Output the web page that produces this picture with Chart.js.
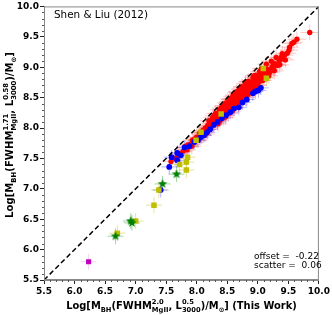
<!DOCTYPE html>
<html>
<head>
<meta charset="utf-8">
<script src="https://cdn.jsdelivr.net/npm/chart.js@4.4.0/dist/chart.umd.min.js"></script>
<style>
html, body { margin: 0; padding: 0; background: #fff; }
</style>
</head>
<body>
<canvas id="chart" width="332" height="315"></canvas>
<script>
// Log M_BH: x = this work, y = Shen & Liu (2012)
const redPts = [
	[7.58,7.45],[7.65,7.50],[7.72,7.58],[7.78,7.62],[7.82,7.70],[7.86,7.72],[7.90,7.73],[7.93,7.80],
	[7.97,7.82],[8.00,7.85],[8.02,7.80],[8.05,7.92],[8.08,7.90],[8.10,7.96],[8.12,7.93],[8.14,8.00],
	[8.16,7.97],[8.18,8.04],[8.20,8.01],[8.22,8.08],[8.24,8.03],[8.25,8.12],[8.27,8.07],[8.29,8.14],
	[8.30,8.10],[8.32,8.18],[8.33,8.12],[8.35,8.20],[8.36,8.15],[8.38,8.24],[8.39,8.18],[8.41,8.27],
	[8.42,8.20],[8.44,8.30],[8.45,8.23],[8.46,8.33],[8.48,8.26],[8.49,8.36],[8.50,8.29],[8.52,8.38],
	[8.53,8.31],[8.55,8.41],[8.56,8.33],[8.57,8.44],[8.59,8.36],[8.60,8.47],[8.62,8.39],[8.63,8.49],
	[8.64,8.42],[8.66,8.52],[8.67,8.44],[8.69,8.55],[8.70,8.47],[8.72,8.57],[8.73,8.50],[8.75,8.60],
	[8.76,8.52],[8.78,8.63],[8.79,8.55],[8.81,8.66],[8.82,8.58],[8.84,8.68],[8.85,8.61],[8.87,8.71],
	[8.88,8.63],[8.90,8.74],[8.91,8.66],[8.93,8.77],[8.95,8.69],[8.96,8.80],[8.98,8.72],[9.00,8.82],
	[9.02,8.76],[9.04,8.86],[9.06,8.79],[9.08,8.89],[9.10,8.83],[9.12,8.92],[9.15,8.88],[9.17,8.96],
	[9.20,8.92],[9.23,9.00],[9.26,8.97],[9.29,9.05],[9.32,9.03],[9.35,9.10],[9.38,9.16],[9.41,9.14],
	[9.44,9.20],[9.48,9.23],[9.51,9.28],[9.56,9.39],[9.59,9.41],[9.64,9.46],[9.85,9.57],
	[8.28,8.20],[8.40,8.33],[8.51,8.43],[8.61,8.54],[8.71,8.64],[8.80,8.73],[8.92,8.83],[9.03,8.93],
	[8.35,8.07],[8.47,8.18],[8.58,8.28],[8.68,8.38],[8.80,8.50],[8.90,8.60],[9.00,8.70],[8.15,7.90],
	[8.05,7.84],[7.95,7.76],[8.45,8.37],[8.55,8.47],[8.65,8.58],[8.75,8.67],[8.85,8.77],[8.97,8.87],
	[8.20,8.12],[8.26,8.17],[8.31,8.24],[8.37,8.30],[8.43,8.36],[8.48,8.41],[8.54,8.48],[8.59,8.52],
	[8.66,8.60],[8.74,8.68],[8.83,8.76],[8.94,8.86],[9.06,8.98],[9.14,9.05],[9.22,9.10],[9.30,9.16],
	[8.38,8.12],[8.44,8.17],[8.52,8.24],[8.62,8.33],[8.72,8.44],[8.84,8.55],[8.94,8.64],[9.08,8.78],
	[9.18,8.86],[9.27,8.94],[9.36,9.04],[9.45,9.12],[8.60,8.43],[8.70,8.53],[8.78,8.61],[8.86,8.68],
	[8.99,8.79],[9.13,8.97],[9.25,9.07],[9.40,9.22],[9.52,9.33],[7.70,7.55],[7.84,7.64],[7.92,7.70],
	[8.10,7.88],[8.18,7.98]
];
const bluePts = [
	[7.41,6.98],[7.55,7.36],[7.59,7.52],[7.68,7.47],[7.68,7.59],[7.74,7.55],[7.80,7.68],[7.88,7.70],
	[7.96,7.77],[8.02,7.80],[8.07,7.85],[8.12,7.88],[8.17,7.93],[8.22,7.98],[8.28,8.05],[8.34,8.10],
	[8.41,8.16],[8.48,8.21],[8.55,8.26],[8.61,8.32],[8.69,8.34],[8.75,8.42],[8.82,8.47],[8.92,8.57],
	[8.96,8.60],[9.01,8.62],[9.05,8.66]
];
const yellowPts = [
	[6.70,6.27],[7.00,6.47],[7.30,6.73],[7.38,6.98],[7.72,7.40],[7.83,7.44],[7.83,7.31],[7.85,7.52],
	[7.99,7.80],[8.07,7.93],[8.40,8.23],[9.09,8.98],[9.14,8.82]
];
const greenPts = [[6.67,6.22],[6.94,6.44],[6.92,6.47],[7.44,7.08],[7.67,7.24]];
const magentaPts = [[6.23,5.80]];
const oneToOne = [[5.5,5.5],[10.0,10.0]];

const xTicks = [5.5, 6.0, 6.5, 7.0, 7.5, 8.0, 8.5, 9.0, 9.5, 10.0];
const yTicks = [5.5, 6.0, 6.5, 7.0, 7.5, 8.0, 8.5, 9.0, 9.5, 10.0];
const offsetText = 'offset =  -0.22';
const scatterText = 'scatter =  0.06';

const toXY = pts => pts.map(p => ({ x: p[0], y: p[1] }));

function starImage(r, color) {
	const c = document.createElement('canvas');
	c.width = c.height = 2 * r + 2;
	const g = c.getContext('2d');
	g.beginPath();
	for (let i = 0; i < 10; i++) {
		const a = -Math.PI / 2 + i * Math.PI / 5;
		const rr = i % 2 ? r * 0.42 : r;
		g.lineTo(r + 1 + rr * Math.cos(a), r + 1 + rr * Math.sin(a));
	}
	g.closePath();
	g.fillStyle = color;
	g.fill();
	return c;
}

// error bars behind markers
const errorBars = {
	id: 'errorBars',
	beforeDatasetsDraw(chart) {
		const { ctx, chartArea, scales: { x, y } } = chart;
		ctx.save();
		ctx.beginPath();
		ctx.rect(chartArea.left, chartArea.top, chartArea.right - chartArea.left, chartArea.bottom - chartArea.top);
		ctx.clip();
		ctx.lineWidth = 1;
		chart.data.datasets.forEach(ds => {
			if (!ds.err) return;
			ctx.strokeStyle = ds.errColor;
			ds.data.forEach(p => {
				const px = x.getPixelForValue(p.x), py = y.getPixelForValue(p.y);
				ctx.beginPath();
				ctx.moveTo(x.getPixelForValue(p.x - ds.err[0]), py);
				ctx.lineTo(x.getPixelForValue(p.x + ds.err[0]), py);
				ctx.moveTo(px, y.getPixelForValue(p.y - ds.err[1]));
				ctx.lineTo(px, y.getPixelForValue(p.y + ds.err[1]));
				ctx.stroke();
			});
		});
		ctx.restore();
	}
};

function drawRich(ctx, parts, target, cx, cy) {
	const fontOf = s => 'bold ' + s + 'px "DejaVu Sans"';
	const measure = s => {
		let w = 0;
		parts.forEach(p => {
			if (p[1] === 'n') { ctx.font = fontOf(s); w += ctx.measureText(p[0]).width; }
			else if (p[1] === 'ss') {
				ctx.font = fontOf(s * 0.68);
				w += Math.max(ctx.measureText(p[0][0]).width, ctx.measureText(p[0][1]).width);
			} else { ctx.font = fontOf(s * 0.68); w += ctx.measureText(p[0]).width; }
		});
		return w;
	};
	const s = 10 * target / measure(10);
	const w = measure(s);
	let x = cx - w / 2;
	const base = cy + s * 0.36;
	ctx.textBaseline = 'alphabetic';
	ctx.textAlign = 'left';
	ctx.fillStyle = '#000';
	parts.forEach(p => {
		if (p[1] === 'n') {
			ctx.font = fontOf(s);
			ctx.fillText(p[0], x, base);
			x += ctx.measureText(p[0]).width;
		} else if (p[1] === 'ss') {
			ctx.font = fontOf(s * 0.68);
			ctx.fillText(p[0][0], x, base - s * 0.42);
			ctx.fillText(p[0][1], x, base + s * 0.3);
			x += Math.max(ctx.measureText(p[0][0]).width, ctx.measureText(p[0][1]).width);
		} else {
			ctx.font = fontOf(s * 0.68);
			ctx.fillText(p[0], x, base + s * 0.3);
			x += ctx.measureText(p[0]).width;
		}
	});
}

const xTitle = [['Log[M','n'],['BH','sub'],['(FWHM','n'],[['2.0','MgII'],'ss'],[', L','n'],[['0.5','3000'],'ss'],[')/M','n'],['\u2299','sub'],['] (This Work)','n']];
const yTitle = [['Log[M','n'],['BH','sub'],['(FWHM','n'],[['1.71','MgII'],'ss'],[', L','n'],[['0.58','3000'],'ss'],[')/M','n'],['\u2299','sub'],[']','n']];

const decorations = {
	id: 'decorations',
	afterDraw(chart) {
		const { ctx, chartArea: a, scales: { x, y } } = chart;
		ctx.save();
		// frame
		ctx.strokeStyle = '#888';
		ctx.lineWidth = 1;
		ctx.strokeRect(a.left + 0.5, a.top + 0.5, a.right - a.left - 1, a.bottom - a.top - 1);
		// minor ticks
		ctx.strokeStyle = '#555';
		ctx.beginPath();
		for (let i = 55; i <= 100; i++) {
			if (i % 5 === 0) continue;
			const px = Math.round(x.getPixelForValue(i / 10)) + 0.5;
			ctx.moveTo(px, a.bottom); ctx.lineTo(px, a.bottom + 2);
			const py = Math.round(y.getPixelForValue(i / 10)) + 0.5;
			ctx.moveTo(a.left, py); ctx.lineTo(a.left - 2, py);
		}
		ctx.stroke();
		// axis titles
		drawRich(ctx, xTitle, 231, (a.left + a.right) / 2, 305);
		ctx.save();
		ctx.translate(9, 135);
		ctx.rotate(-Math.PI / 2);
		drawRich(ctx, yTitle, 166, 0, 0);
		ctx.restore();
		// annotations
		ctx.fillStyle = '#000';
		ctx.textBaseline = 'middle';
		ctx.textAlign = 'left';
		ctx.font = '10.4px "DejaVu Sans"';
		ctx.fillText('Shen & Liu (2012)', 54, 15);
		ctx.font = '9px "DejaVu Sans"';
		ctx.fillText(offsetText, 254, 257);
		ctx.fillText(scatterText, 254, 266);
		ctx.restore();
	}
};

function errSet(label, pts, color, errColor, style, radius, err, order) {
	return {
		label: label,
		data: toXY(pts),
		backgroundColor: color,
		borderColor: color,
		borderWidth: 0,
		pointStyle: style,
		pointRadius: radius,
		err: err,
		errColor: errColor,
		order: order
	};
}

const datasets = [
	{
		label: '1:1',
		data: toXY(oneToOne),
		showLine: true,
		borderColor: '#000',
		borderWidth: 1.5,
		borderDash: [5, 3],
		pointRadius: 0,
		order: 0
	},
	errSet('magenta', magentaPts, '#bf00bf', 'rgba(191,0,191,0.18)', 'rect', 3.6, [0.13, 0.13], 1),
	errSet('green', greenPts, '#008000', 'rgba(0,128,0,0.35)', starImage(5, '#008000'), 5, [0.13, 0.13], 2),
	errSet('yellow', yellowPts, '#bfbf00', 'rgba(191,191,0,0.4)', 'rect', 3.9, [0.13, 0.13], 3),
	errSet('blue', bluePts, '#0000ff', 'rgba(0,0,255,0.3)', 'circle', 2.9, [0.13, 0.12], 4),
	errSet('red', redPts, '#ff0000', 'rgba(255,0,0,0.22)', 'circle', 2.7, [0.15, 0.13], 5)
];

const tickFont = { family: 'DejaVu Sans', size: 9, weight: 'bold' };

new Chart(document.getElementById('chart').getContext('2d'), {
	type: 'scatter',
	data: { datasets: datasets },
	options: {
		responsive: false,
		animation: false,
		events: [],
		layout: { padding: { top: 6, right: 10, left: 0, bottom: 0 } },
		plugins: { legend: { display: false }, tooltip: { enabled: false } },
		scales: {
			x: {
				type: 'linear',
				min: xTicks[0],
				max: xTicks[xTicks.length - 1],
				afterFit: s => { s.height = 35; },
				afterBuildTicks: s => { s.ticks = xTicks.map(v => ({ value: v })); },
				grid: { drawOnChartArea: false, tickLength: 4, tickColor: '#222' },
				border: { color: '#888' },
				ticks: { font: tickFont, color: '#000', padding: 2, maxRotation: 0, callback: v => v.toFixed(1) }
			},
			y: {
				type: 'linear',
				min: yTicks[0],
				max: yTicks[yTicks.length - 1],
				afterFit: s => { s.width = 44; },
				afterBuildTicks: s => { s.ticks = yTicks.map(v => ({ value: v })); },
				grid: { drawOnChartArea: false, tickLength: 4, tickColor: '#222' },
				border: { color: '#888' },
				ticks: { font: tickFont, color: '#000', padding: 1, callback: v => v.toFixed(1) }
			}
		}
	},
	plugins: [errorBars, decorations]
});
</script>
</body>
</html>
